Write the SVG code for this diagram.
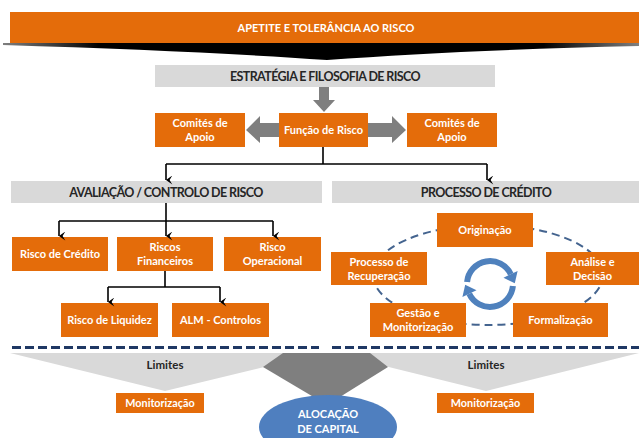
<svg xmlns="http://www.w3.org/2000/svg" width="639" height="438" viewBox="0 0 639 438">
<style>
.box{fill:#E46C0A}
.bar{fill:#D9D9D9}
.bt{font-family:Lato,"Open Sans","Liberation Sans",sans-serif;font-weight:bold;font-size:11px;fill:#FFFFFF;text-anchor:middle}
.gt{font-family:Lato,"Open Sans","Liberation Sans",sans-serif;font-weight:bold;font-size:12.5px;letter-spacing:-0.6px;fill:#262626;text-anchor:middle}
.lt{font-family:Lato,"Open Sans","Liberation Sans",sans-serif;font-weight:bold;font-size:11.5px;fill:#262626;text-anchor:middle}
.mt{font-family:Lato,"Open Sans","Liberation Sans",sans-serif;font-weight:bold;font-size:10.8px;fill:#FFFFFF;text-anchor:middle}
.conn{fill:none;stroke:#000;stroke-width:1.6}
.garrow{fill:#7F7F7F}
.navy{stroke:#1F3864;stroke-width:3;stroke-dasharray:9 4;fill:none}
.cyc{fill:none;stroke:#4F81BD;stroke-width:6}
</style>
<defs>
<marker id="ah" viewBox="0 0 10 10" refX="5" refY="9" markerWidth="9" markerHeight="9" markerUnits="userSpaceOnUse" orient="auto-start-reverse">
<path d="M0,2 L5,9 L10,2 L5,5 Z" fill="#000"/>
</marker>
<linearGradient id="shadow" x1="0" y1="0" x2="1" y2="0">
<stop offset="0" stop-color="#000" stop-opacity="0.5"/>
<stop offset="0.15" stop-color="#000"/>
<stop offset="0.85" stop-color="#000"/>
<stop offset="1" stop-color="#000" stop-opacity="0.5"/>
</linearGradient>
</defs>

<!-- Top banner -->
<g id="banner">
<path d="M3,43 L639,43 L639,46 Q460,50 327,60 Q200,51 3,45 Z" fill="url(#shadow)"/>
<rect x="10" y="12" width="629" height="31" fill="#E46C0A"/>
<text class="bt" x="326" y="32" font-size="12.5">APETITE E TOLERÂNCIA AO RISCO</text>
</g>

<g id="estrategia">
<rect class="bar" x="155" y="65" width="340" height="22"/>
<text class="gt" x="325" y="80.5">ESTRATÉGIA E FILOSOFIA DE RISCO</text>
</g>

<!-- gray block arrows -->
<g id="gray-arrows">
<polygon class="garrow" points="319,87 329,87 329,100 335,100 324,112 313,100 319,100"/>
<polygon class="garrow" points="279,123 260,123 260,116 246,130 260,143 260,137 279,137"/>
<polygon class="garrow" points="368,123 392,123 392,116 406,130 392,143 392,137 368,137"/>
</g>

<g id="comites-left">
<rect class="box" x="155" y="113" width="90" height="34"/>
<text class="bt" x="200" y="127">Comités de</text>
<text class="bt" x="200" y="141">Apoio</text>
</g>
<g id="funcao">
<rect class="box" x="279" y="113" width="89" height="34"/>
<text class="bt" x="323.5" y="134">Função de Risco</text>
</g>
<g id="comites-right">
<rect class="box" x="407" y="113" width="90" height="34"/>
<text class="bt" x="452" y="127">Comités de</text>
<text class="bt" x="452" y="141">Apoio</text>
</g>

<g id="avaliacao">
<rect class="bar" x="11" y="181" width="311" height="22"/>
<text class="gt" x="166" y="196.5">AVALIAÇÃO / CONTROLO DE RISCO</text>
</g>
<g id="processo">
<rect class="bar" x="332" y="181" width="307" height="22"/>
<text class="gt" x="486" y="196.5">PROCESSO DE CRÉDITO</text>
</g>

<g id="risco-credito">
<rect class="box" x="12" y="237" width="96" height="34"/>
<text class="bt" x="60" y="258">Risco de Crédito</text>
</g>
<g id="riscos-financeiros">
<rect class="box" x="117" y="237" width="96" height="34"/>
<text class="bt" x="165" y="251">Riscos</text>
<text class="bt" x="165" y="265">Financeiros</text>
</g>
<g id="risco-operacional">
<rect class="box" x="224" y="237" width="97" height="34"/>
<text class="bt" x="272.5" y="251">Risco</text>
<text class="bt" x="272.5" y="265">Operacional</text>
</g>
<g id="risco-liquidez">
<rect class="box" x="61" y="303" width="97" height="34"/>
<text class="bt" x="109.5" y="324">Risco de Liquidez</text>
</g>
<g id="alm">
<rect class="box" x="172" y="303" width="97" height="34"/>
<text class="bt" x="220.5" y="324">ALM - Controlos</text>
</g>

<!-- credit cycle -->
<g id="cycle">
<ellipse cx="488" cy="275" rx="115" ry="50" fill="none" stroke="#44648F" stroke-width="2" stroke-dasharray="8 5"/>
<path class="cyc" d="M467.1,282 A23,23 0 0 1 510.8,274.3"/>
<polygon fill="#4F81BD" points="503.5,277.7 517.6,271 514.8,283.3"/>
<path class="cyc" d="M512.9,286 A23,23 0 0 1 469.2,293.7"/>
<polygon fill="#4F81BD" points="476.5,290.3 462.4,297 465.2,284.7"/>
</g>
<g id="originacao">
<rect class="box" x="437" y="213" width="96" height="34"/>
<text class="bt" x="485" y="234">Originação</text>
</g>
<g id="analise">
<rect class="box" x="546" y="252" width="93" height="33"/>
<text class="bt" x="592.5" y="266">Análise e</text>
<text class="bt" x="592.5" y="280">Decisão</text>
</g>
<g id="recuperacao">
<rect class="box" x="331" y="252" width="96" height="33"/>
<text class="bt" x="379" y="266">Processo de</text>
<text class="bt" x="379" y="280">Recuperação</text>
</g>
<g id="gestao">
<rect class="box" x="370" y="303" width="96" height="34"/>
<text class="bt" x="418" y="317">Gestão e</text>
<text class="bt" x="418" y="331">Monitorização</text>
</g>
<g id="formalizacao">
<rect class="box" x="513" y="303" width="95" height="34"/>
<text class="bt" x="560.5" y="324">Formalização</text>
</g>

<!-- connectors -->
<g id="connectors">
<path class="conn" d="M323,147 V164 M166,164 H487"/>
<path class="conn" d="M166,164 V180" marker-end="url(#ah)"/>
<path class="conn" d="M487,164 V180" marker-end="url(#ah)"/>
<path class="conn" d="M166,203 V236" marker-end="url(#ah)"/>
<path class="conn" d="M59,221 H273"/>
<path class="conn" d="M59,221 V236" marker-end="url(#ah)"/>
<path class="conn" d="M273,221 V236" marker-end="url(#ah)"/>
<path class="conn" d="M165,271 V287 M108,287 H220"/>
<path class="conn" d="M108,287 V302" marker-end="url(#ah)"/>
<path class="conn" d="M220,287 V302" marker-end="url(#ah)"/>
</g>

<!-- dashed separators -->
<g id="separators">
<line class="navy" x1="12" y1="347.5" x2="319" y2="347.5"/>
<line class="navy" x1="332" y1="347.5" x2="639" y2="347.5"/>
</g>

<!-- bottom funnels -->
<g id="limites-left">
<polygon fill="#D9D9D9" points="10,353 322,353 165,391"/>
<text class="lt" x="165" y="369">Limites</text>
</g>
<g id="limites-right">
<polygon fill="#D9D9D9" points="332,353 639,353 486,391"/>
<text class="lt" x="486" y="369">Limites</text>
</g>
<g id="capital-wedge">
<polygon fill="#7F7F7F" points="283,353 370,353 388,367 327,405 263,367"/>
</g>
<g id="monitorizacao-left">
<rect class="box" x="116" y="393" width="88" height="20"/>
<text class="mt" x="160" y="406.8">Monitorização</text>
</g>
<g id="monitorizacao-right">
<rect class="box" x="437" y="393" width="97" height="20"/>
<text class="mt" x="485.5" y="406.8">Monitorização</text>
</g>
<g id="alocacao">
<ellipse cx="328" cy="427" rx="69" ry="32" fill="#4F7FBF"/>
<text class="bt" x="328" y="418" font-size="12">ALOCAÇÃO</text>
<text class="bt" x="328" y="433" font-size="12">DE CAPITAL</text>
</g>
</svg>
